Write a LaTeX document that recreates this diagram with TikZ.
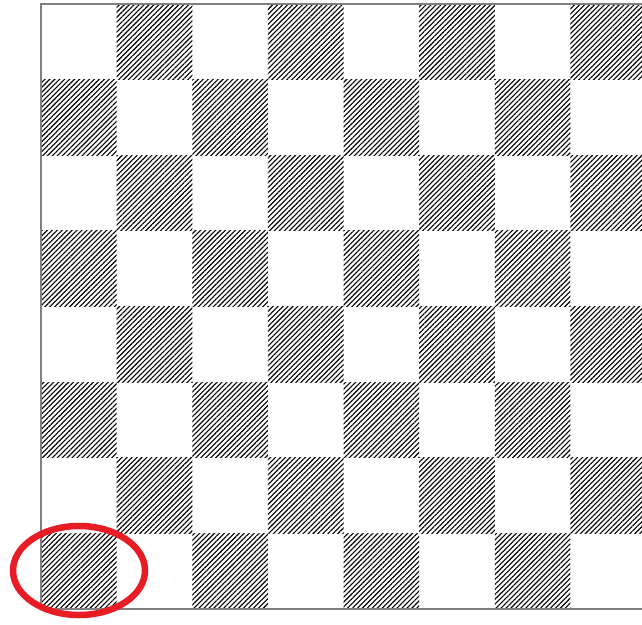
\documentclass[tikz,border=0pt]{standalone}
\usetikzlibrary{patterns.meta}
\definecolor{boardgray}{RGB}{128,128,128}
\definecolor{ringred}{RGB}{232,28,36}
\begin{document}
\begin{tikzpicture}[x=1pt,y=-1pt,
  hatch/.style={pattern={Lines[angle=45,distance=3.5pt,line width=1.1pt]},pattern color=black},
  frame/.style={draw=boardgray,line width=2pt},
  ring/.style={draw=ringred,line width=6.5pt}]
\useasboundingbox (0,0) rectangle (642,624);
\begin{scope}
\clip (0,0) rectangle (642,624);
\def\sq{75.625}
\foreach \r in {0,...,7}{
  \foreach \c in {0,...,7}{
    \pgfmathtruncatemacro\pp{mod(\r+\c,2)}
    \ifnum\pp=1
      \fill[hatch] ({41+\c*\sq},{4+\r*\sq}) rectangle ({41+(\c+1)*\sq},{4+(\r+1)*\sq});
    \fi
  }
}
\coordinate (tl) at (41,4);
\coordinate (tr) at (642,4);
\coordinate (bl) at (41,609);
\coordinate (br) at (642,609);
\draw[frame] (tr) -- (tl) -- (bl) -- (br);
\draw[ring] (79,570.5) ellipse [x radius=66, y radius=44.5];
\end{scope}
\end{tikzpicture}
\end{document}
